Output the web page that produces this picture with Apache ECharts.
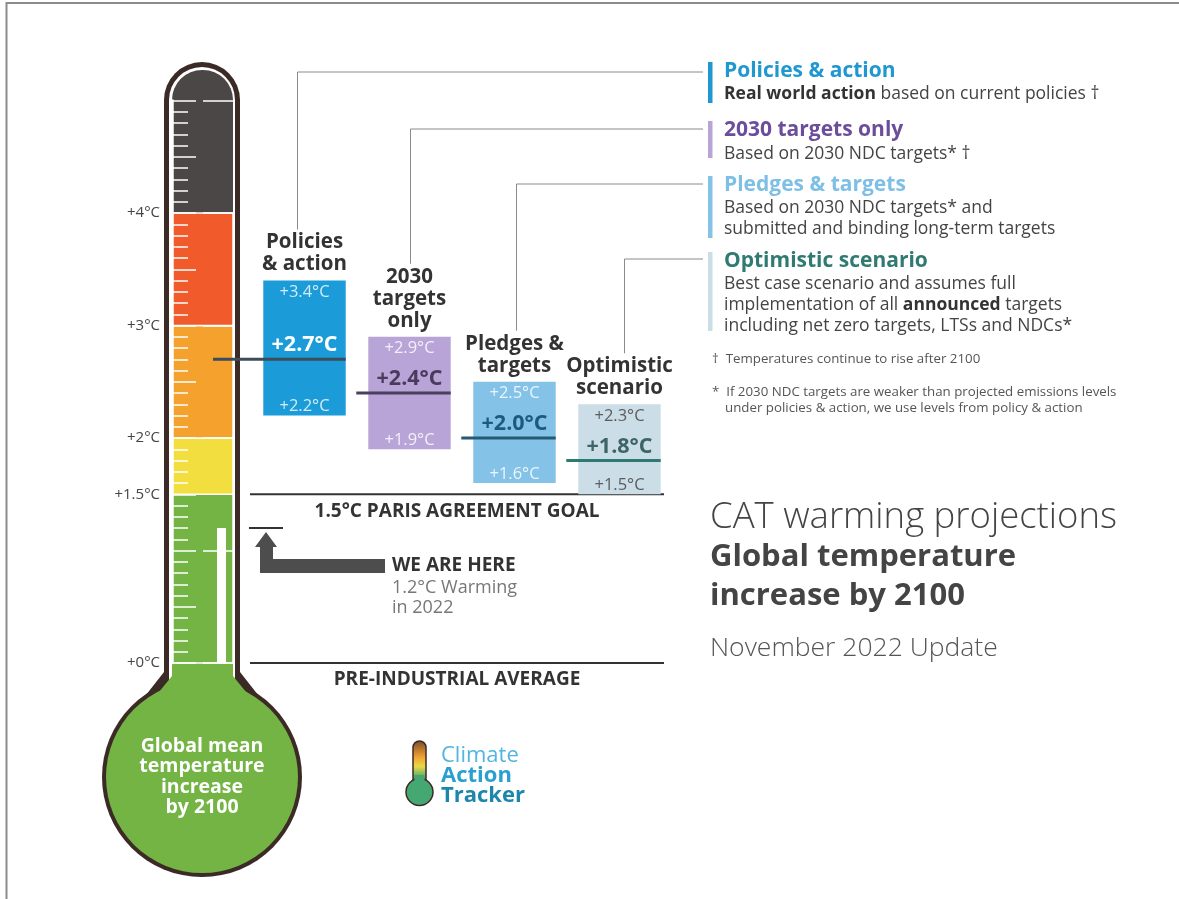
<!DOCTYPE html>
<html><head><meta charset="utf-8">
<script src="https://cdn.jsdelivr.net/npm/echarts@6/dist/echarts.min.js"></script>
<style>html,body{margin:0;padding:0;background:#fff}#c{width:1179px;height:899px}</style>
</head><body><div id="c"></div>
<script>
// ---------- data ----------
const scenarioNames = ['Policies\n& action', '2030\ntargets\nonly', 'Pledges &\ntargets', 'Optimistic\nscenario'];
const lowValues  = [2.2, 1.9, 1.6, 1.5];
const midValues  = [2.7, 2.4, 2.0, 1.8];
const highValues = [3.4, 2.9, 2.5, 2.3];
const bandStarts = [0, 1.5, 2, 3];
const bandEnds   = [1.5, 2, 3, 4];
const tickValues = [0, 1.5, 2, 3, 4];
const tickLabels = ['+0°C', '+1.5°C', '+2°C', '+3°C', '+4°C'];
const currentWarming = 1.2;
const currentYear = '2022';
const refValues = [1.5, 0];
const refLabels = ['1.5°C PARIS AGREEMENT GOAL', 'PRE-INDUSTRIAL AVERAGE'];
const legendTitles = ['Policies & action', '2030 targets only', 'Pledges & targets', 'Optimistic scenario'];
const legendLines = [
  ['{b|Real world action} based on current policies †'],
  ['Based on 2030 NDC targets* †'],
  ['Based on 2030 NDC targets* and', 'submitted and binding long-term targets'],
  ['Best case scenario and assumes full', 'implementation of all {b|announced} targets', 'including net zero targets, LTSs and NDCs*']
];
const footnotes = ['†  Temperatures continue to rise after 2100',
  '*  If 2030 NDC targets are weaker than projected emissions levels',
  'under policies & action, we use levels from policy & action'];
const titleLines = ['CAT warming projections', 'Global temperature', 'increase by 2100', 'November 2022 Update'];
const bulbLines = 'Global mean\ntemperature\nincrease\nby 2100';
const logoLines = ['Climate', 'Action', 'Tracker'];

// ---------- styles ----------
const FONT = '"Open Sans", "Noto Sans", "DejaVu Sans", sans-serif';
const barColors = ['#1b9bd7', '#b8a4d6', '#84c2e7', '#cbdde7'];
const midLineColors = ['#3b4d5c', '#4b3f5e', '#245a73', '#2e7a72'];
const midTextColors = ['#ffffff', '#4b3a5e', '#1e5a7c', '#3d6563'];
const edgeTextColors = ['#d2ebf8', '#f4f0f9', '#eaf5fc', '#5c5c5c'];
const legendTitleColors = ['#1f97d1', '#6c4d9c', '#7dbfe5', '#2f7a72'];
const bandColors = ['#73b444', '#f3de3f', '#f4a12d', '#f15a2b'];
const legendAnchorY = [72, 129, 184, 259];
const connectorDx = [-7, 1, 2, 5];
const legendLineEndX = 703;
const policyLineStartX = 213;

function fmt(v) { return '+' + v.toFixed(1) + '°C'; }
function T(x, y, text, s) {
  const style = Object.assign({ text: text, fill: '#444', fontFamily: FONT, fontSize: 15, fontWeight: 'normal',
    align: 'left', verticalAlign: 'middle', textAlign: 'left', textVerticalAlign: 'middle' }, s || {});
  if (s && s.align) style.textAlign = s.align;
  if (s && s.verticalAlign) style.textVerticalAlign = s.verticalAlign;
  return { type: 'text', x: x, y: y, z: 50, silent: true, style: style };
}

// ---------- graphic (static decoration & text) ----------
const DARK = '#3c2a26';
const graphics = [
  { type: 'line', z: 0, shape: { x1: 6, y1: 3, x2: 1179, y2: 3 }, style: { stroke: '#8c8c8c', lineWidth: 2 } },
  { type: 'line', z: 0, shape: { x1: 6.5, y1: 2, x2: 6.5, y2: 899 }, style: { stroke: '#8c8c8c', lineWidth: 2 } },
  // thermometer body
  { type: 'rect', z: 0, shape: { x: 164, y: 62, width: 76, height: 660, r: [38, 38, 0, 0] }, style: { fill: DARK } },
  { type: 'polygon', z: 0, shape: { points: [[164, 672], [240, 672], [262, 700], [142, 700]] }, style: { fill: DARK } },
  { type: 'circle', z: 0, shape: { cx: 202, cy: 777, r: 100 }, style: { fill: DARK } },
  { type: 'rect', z: 0, shape: { x: 169, y: 67, width: 66, height: 640, r: [33, 33, 0, 0] }, style: { fill: '#ffffff' } },
  { type: 'rect', z: 0, shape: { x: 172, y: 70, width: 61, height: 600, r: [30, 30, 0, 0] }, style: { fill: '#4a4746' } },
  { type: 'rect', z: 0, shape: { x: 172, y: 600, width: 61, height: 150 }, style: { fill: '#73b444' } },
  { type: 'polygon', z: 0, shape: { points: [[172, 676], [233, 676], [255, 703], [150, 703]] }, style: { fill: '#73b444' } },
  { type: 'circle', z: 0, shape: { cx: 202, cy: 777, r: 96 }, style: { fill: '#73b444' } },
  T(202, 777, bulbLines, { fill: '#ffffff', fontWeight: 'bold', fontSize: 19.5, lineHeight: 20.5, align: 'center' }),
  // logo
  { type: 'rect', z: 40, shape: { x: 413, y: 741, width: 13, height: 46, r: 6.5 },
    style: { stroke: DARK, lineWidth: 1.5, fill: { type: 'linear', x: 0, y: 0, x2: 0, y2: 1,
      colorStops: [{ offset: 0, color: '#7b4a2c' }, { offset: 0.35, color: '#f0a032' }, { offset: 0.55, color: '#e9d944' }, { offset: 0.8, color: '#45a872' }] } } },
  { type: 'circle', z: 40, shape: { cx: 419.5, cy: 792, r: 13.5 }, style: { fill: '#45a872', stroke: DARK, lineWidth: 1.5 } },
  { type: 'rect', z: 41, shape: { x: 414.5, y: 775, width: 10, height: 12 }, style: { fill: '#45a872' } },
  T(441, 756, logoLines[0], { fontSize: 22, fill: '#52b5df' }),
  T(441, 776, logoLines[1], { fontSize: 22, fill: '#2aa0d0', fontWeight: 'bold' }),
  T(441, 796, logoLines[2], { fontSize: 22, fill: '#1d86ad', fontWeight: 'bold' }),
  // title block
  T(710, 518, titleLines[0], { fontSize: 36.5, fontWeight: 300, fill: '#444' }),
  T(710, 557, titleLines[1], { fontSize: 31, fontWeight: 'bold', fill: '#444' }),
  T(710, 596, titleLines[2], { fontSize: 31, fontWeight: 'bold', fill: '#444' }),
  T(710, 648, titleLines[3], { fontSize: 26.5, fontWeight: 300, fill: '#555' }),
  // footnotes
  T(712, 359, footnotes[0], { fontSize: 13.3, fill: '#555' }),
  T(712, 392, footnotes[1], { fontSize: 13.3, fill: '#555' }),
  T(725, 408, footnotes[2], { fontSize: 13.3, fill: '#555' })
];
const legendBarRanges = [[62, 103], [121, 158], [176, 238], [252, 331]];
const legendTitleY = [71, 130, 185, 261];
const legendLineY = [[94], [154], [208, 229], [284, 305, 326]];
legendTitles.forEach(function (t, i) {
  graphics.push({ type: 'rect', z: 40, shape: { x: 708, y: legendBarRanges[i][0], width: 4.5, height: legendBarRanges[i][1] - legendBarRanges[i][0] }, style: { fill: i === 0 ? '#1f97d1' : barColors[i] } });
  graphics.push(T(724, legendTitleY[i], t, { fontSize: 21, fontWeight: 'bold', fill: legendTitleColors[i] }));
  legendLines[i].forEach(function (line, k) {
    graphics.push(T(724, legendLineY[i][k], line, { fontSize: 17.5, fill: '#444',
      rich: { b: { fontSize: 17.5, fontWeight: 'bold', fill: '#333', fontFamily: FONT } } }));
  });
});

// ---------- series renderers ----------
function renderBand(params, api) {
  const cs = params.coordSys;
  const yTop = api.coord([0, api.value(2)])[1];
  const yBot = api.coord([0, api.value(1)])[1];
  return { type: 'rect', shape: { x: cs.x, y: yTop, width: cs.width, height: yBot - yTop },
    style: { fill: bandColors[params.dataIndex], stroke: '#ffffff', lineWidth: 1.5 } };
}
function renderMercury(params, api) {
  const cs = params.coordSys;
  const yTop = api.coord([0, api.value(1)])[1];
  const yBot = api.coord([0, 0])[1];
  return { type: 'rect', shape: { x: cs.x + 45, y: yTop, width: 9, height: yBot - yTop }, style: { fill: '#ffffff' } };
}
function renderScenario(params, api) {
  const i = params.dataIndex;
  const cat = api.value(0);
  const lo = api.value(1), mid = api.value(2), hi = api.value(3);
  const pLo = api.coord([cat, lo]), pMid = api.coord([cat, mid]), pHi = api.coord([cat, hi]);
  const bw = api.size([1, 0])[0] * 0.785;
  const cx = pLo[0], x0 = cx - bw / 2;
  const nLines = scenarioNames[i].split('\n').length;
  const nameBottom = pHi[1] - 5;
  const nameTop = nameBottom - nLines * 22;
  const vx = cx + connectorDx[i];
  const txt = function (x, y, text, s) {
    return { type: 'text', x: x, y: y, style: Object.assign({ text: text, fontFamily: FONT, align: 'center', verticalAlign: 'middle',
      textAlign: 'center', textVerticalAlign: 'middle' }, s) };
  };
  return { type: 'group', children: [
    { type: 'polyline', shape: { points: [[vx, nameTop - 2], [vx, legendAnchorY[i]], [legendLineEndX, legendAnchorY[i]]] },
      style: { stroke: '#8a8a8a', lineWidth: 1, fill: null } },
    { type: 'rect', shape: { x: x0, y: pHi[1], width: bw, height: pLo[1] - pHi[1] }, style: { fill: barColors[i] } },
    { type: 'line', shape: { x1: i === 0 ? policyLineStartX : x0 - 12, y1: pMid[1], x2: x0 + bw, y2: pMid[1] },
      style: { stroke: midLineColors[i], lineWidth: 3 } },
    txt(cx, pHi[1] + 12, fmt(hi), { fill: edgeTextColors[i], fontSize: 16.5 }),
    txt(cx, pMid[1] - 14, fmt(mid), { fill: midTextColors[i], fontSize: 21.5, fontWeight: 'bold' }),
    txt(cx, pLo[1] - 9, fmt(lo), { fill: edgeTextColors[i], fontSize: 16.5 }),
    { type: 'text', x: cx, y: nameBottom, style: { text: scenarioNames[i], fontFamily: FONT, fontSize: 20.5, fontWeight: 'bold',
      fill: '#333', lineHeight: 22, align: 'center', verticalAlign: 'bottom', textAlign: 'center', textVerticalAlign: 'bottom' } }
  ] };
}
function renderRef(params, api) {
  const cs = params.coordSys;
  const y = api.coord([0, api.value(1)])[1];
  return { type: 'group', children: [
    { type: 'line', shape: { x1: cs.x - 2, y1: y, x2: cs.x + cs.width - 8, y2: y }, style: { stroke: '#333', lineWidth: 2 } },
    { type: 'text', x: cs.x + 205, y: y + 17, style: { text: refLabels[params.dataIndex], fontFamily: FONT, fontSize: 19, fontWeight: 'bold',
      fill: '#333', align: 'center', verticalAlign: 'middle', textAlign: 'center', textVerticalAlign: 'middle' } }
  ] };
}
function renderHere(params, api) {
  const cs = params.coordSys;
  const v = api.value(1);
  const y = api.coord([0, v])[1];
  const xb = cs.x;
  const pts = [[xb + 14, y + 4], [xb + 25, y + 19], [xb + 21, y + 19], [xb + 21, y + 31], [xb + 133, y + 31],
    [xb + 133, y + 45], [xb + 8, y + 45], [xb + 8, y + 19], [xb + 3, y + 19]];
  const st = { fontFamily: FONT, align: 'left', verticalAlign: 'middle', textAlign: 'left', textVerticalAlign: 'middle' };
  return { type: 'group', children: [
    { type: 'line', shape: { x1: xb - 3, y1: y, x2: xb + 31, y2: y }, style: { stroke: '#333', lineWidth: 2 } },
    { type: 'polygon', shape: { points: pts }, style: { fill: '#4d4d4d' } },
    { type: 'text', x: xb + 140, y: y + 38, style: Object.assign({ text: 'WE ARE HERE', fontSize: 19, fontWeight: 'bold', fill: '#333' }, st) },
    { type: 'text', x: xb + 140, y: y + 60, style: Object.assign({ text: v.toFixed(1) + '°C Warming', fontSize: 18, fill: '#777' }, st) },
    { type: 'text', x: xb + 140, y: y + 80, style: Object.assign({ text: 'in ' + currentYear, fontSize: 18, fill: '#777' }, st) }
  ] };
}

// ---------- chart ----------
const chart = echarts.init(document.getElementById('c'));
const GRID_TOP = 100.5, GRID_H = 562.5;
chart.setOption({
  animation: false,
  backgroundColor: '#ffffff',
  grid: [
    { left: 172, width: 61, top: GRID_TOP, height: GRID_H },
    { left: 252, width: 420, top: GRID_TOP, height: GRID_H }
  ],
  xAxis: [
    { gridIndex: 0, type: 'value', min: 0, max: 1, show: false },
    { gridIndex: 1, type: 'category', data: scenarioNames, show: false }
  ],
  yAxis: [
    { gridIndex: 0, type: 'value', min: 0, max: 5, interval: 0.5, z: 2,
      axisLine: { show: true, lineStyle: { color: '#ffffff', width: 2.5 } },
      axisTick: { show: true, inside: true, length: 24, lineStyle: { color: '#ffffff', width: 1.5 } },
      minorTick: { show: true, splitNumber: 5, length: 16, lineStyle: { color: '#ffffff', width: 1.5 } },
      splitLine: { show: false },
      axisLabel: { margin: 12, color: '#444', fontSize: 15, fontFamily: FONT,
        formatter: function (v) { for (let k = 0; k < tickValues.length; k++) { if (Math.abs(tickValues[k] - v) < 1e-6) return tickLabels[k]; } return ''; } } },
    { gridIndex: 1, type: 'value', min: 0, max: 5, show: false },
    { gridIndex: 0, type: 'value', min: 0, max: 5, interval: 1, z: 2,
      axisLine: { show: false }, axisLabel: { show: false }, splitLine: { show: false },
      axisTick: { show: true, inside: true, length: 30, lineStyle: { color: '#ffffff', width: 1.5 } } }
  ],
  graphic: { elements: graphics },
  series: [
    { type: 'custom', name: 'bands', xAxisIndex: 0, yAxisIndex: 0, z: 1, clip: false, silent: true,
      data: bandStarts.map(function (s, i) { return [0, s, bandEnds[i]]; }), encode: { x: 0, y: [1, 2] }, renderItem: renderBand },
    { type: 'custom', name: 'mercury', xAxisIndex: 0, yAxisIndex: 0, z: 3, clip: false, silent: true,
      data: [[0, currentWarming]], encode: { x: 0, y: 1 }, renderItem: renderMercury },
    { type: 'custom', name: 'refs', xAxisIndex: 1, yAxisIndex: 1, z: 4, clip: false, silent: true,
      data: refValues.map(function (v) { return [0, v]; }), encode: { x: 0, y: 1 }, renderItem: renderRef },
    { type: 'custom', name: 'here', xAxisIndex: 1, yAxisIndex: 1, z: 4, clip: false, silent: true,
      data: [[0, currentWarming]], encode: { x: 0, y: 1 }, renderItem: renderHere },
    { type: 'custom', name: 'scenarios', xAxisIndex: 1, yAxisIndex: 1, z: 5, clip: false, silent: true,
      data: scenarioNames.map(function (_, i) { return [i, lowValues[i], midValues[i], highValues[i]]; }),
      encode: { x: 0, y: [1, 2, 3] }, renderItem: renderScenario }
  ]
});
</script>
</body></html>
